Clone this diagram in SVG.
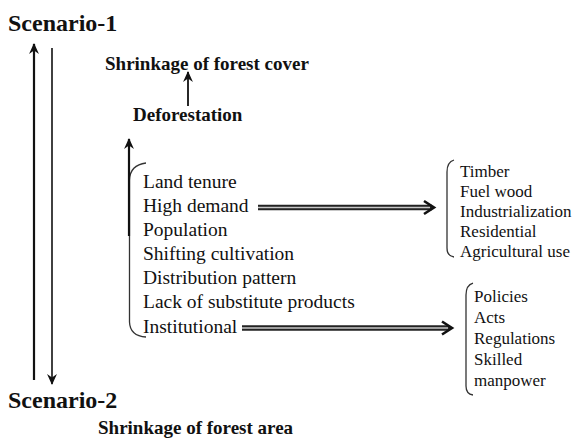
<svg xmlns="http://www.w3.org/2000/svg" width="573" height="438" viewBox="0 0 573 438">
  <style>
    .t { font-family: "Liberation Serif", "Times New Roman", serif; fill: #111; }
    .b { font-weight: bold; }
    .s24 { font-size: 24px; }
    .s19 { font-size: 19px; }
    .lst { font-size: 19.5px; }
    .sm { font-size: 17px; }
    .ln { stroke: #111; fill: none; }
    .br { stroke: #333; stroke-width: 1.3; fill: none; }
    .dbl-o { stroke: #222; stroke-width: 5.5; fill: none; }
    .dbl-i { stroke: #c8c8c8; stroke-width: 1.6; fill: none; }
    .chev { stroke: #111; stroke-width: 2.6; fill: none; stroke-linejoin: miter; }
  </style>
  <defs>
    <marker id="ah" viewBox="0 0 10 10" refX="9" refY="5" markerWidth="12" markerHeight="11" markerUnits="userSpaceOnUse" orient="auto">
      <path d="M0,0.5 L10,5 L0,9.5 L3,5 z" fill="#111"/>
    </marker>
  </defs>
  <rect width="573" height="438" fill="#fff"/>

  <g id="scenario1"><text class="t b s24" x="8" y="31">Scenario-1</text></g>
  <g id="shrink-cover"><text class="t b s19" x="105" y="70">Shrinkage of forest cover</text></g>
  <g id="deforestation"><text class="t b s19" x="133" y="121">Deforestation</text></g>
  <g id="scenario2"><text class="t b s24" x="8" y="408">Scenario-2</text></g>
  <g id="shrink-area"><text class="t b s19" x="98" y="434">Shrinkage of forest area</text></g>

  <g id="factors">
    <path class="br" d="M146,163 Q130,165 129.5,180 L129.5,322 Q130,336 146,337"/>
    <text class="t lst" x="143" y="188">Land tenure</text>
    <text class="t lst" x="143" y="212">High demand</text>
    <text class="t lst" x="143" y="236">Population</text>
    <text class="t lst" x="143" y="260">Shifting cultivation</text>
    <text class="t lst" x="143" y="284">Distribution pattern</text>
    <text class="t lst" x="143" y="308">Lack of substitute products</text>
    <text class="t lst" x="143" y="333">Institutional</text>
  </g>

  <g id="demand-uses">
    <path class="br" d="M454,160 Q447,162 447,172 L447,248 Q447,256 454,257"/>
    <text class="t sm" x="460" y="177">Timber</text>
    <text class="t sm" x="460" y="197">Fuel wood</text>
    <text class="t sm" x="460" y="217">Industrialization</text>
    <text class="t sm" x="460" y="237">Residential</text>
    <text class="t sm" x="460" y="257">Agricultural use</text>
  </g>

  <g id="institutional-items">
    <path class="br" d="M473,283 Q466,285 466,295 L466,386 Q466,394 473,395"/>
    <text class="t sm" x="474" y="302">Policies</text>
    <text class="t sm" x="474" y="323">Acts</text>
    <text class="t sm" x="474" y="344">Regulations</text>
    <text class="t sm" x="474" y="365">Skilled</text>
    <text class="t sm" x="474" y="386">manpower</text>
  </g>

  <g id="connectors">
    <line class="ln" x1="34" y1="380" x2="34" y2="44" stroke-width="2.2" marker-end="url(#ah)"/>
    <line class="ln" x1="52" y1="48" x2="52" y2="384" stroke-width="1.6" marker-end="url(#ah)"/>
    <line class="ln" x1="188" y1="106" x2="188" y2="72" stroke-width="1.8" marker-end="url(#ah)"/>
    <line class="ln" x1="129" y1="236" x2="129" y2="139" stroke-width="2.2" marker-end="url(#ah)"/>
    <line class="dbl-o" x1="258" y1="207.5" x2="432" y2="207.5"/>
    <line class="dbl-i" x1="258" y1="207.5" x2="430" y2="207.5"/>
    <polyline class="chev" points="424,201 434,207.5 424,214"/>
    <line class="dbl-o" x1="242" y1="328" x2="450" y2="328"/>
    <line class="dbl-i" x1="242" y1="328" x2="448" y2="328"/>
    <polyline class="chev" points="442,321.5 452,328 442,334.5"/>
  </g>
</svg>
